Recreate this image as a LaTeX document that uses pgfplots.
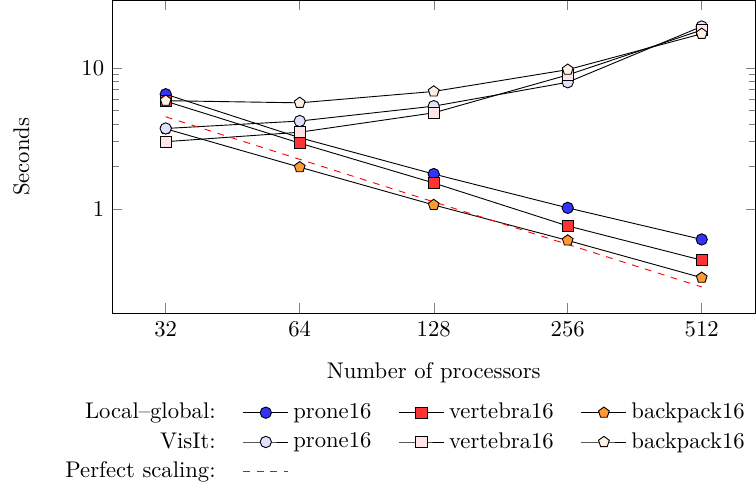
\documentclass[border=0pt]{standalone}
\usepackage{pgfplots}
\pgfplotsset{compat=1.18}

\begin{document}
\begin{tikzpicture}
\begin{axis}[
  scale only axis, width=284pt, height=138pt,
  xmode=log, ymode=log, log basis x=2,
  xtick={32,64,128,256,512}, xticklabels={32,64,128,256,512},
  ytick={1,10}, yticklabels={1,10},
  xminorticks=false,
  xlabel={Number of processors}, ylabel={Seconds},
  xlabel style={yshift=-4.5pt}, ylabel shift=16pt,
  every axis plot/.append style={mark size=2.5pt},
  legend image code/.code={\draw[mark repeat=2,mark phase=2] plot coordinates {(0cm,0cm) (0.35cm,0cm) (0.7cm,0cm)};},
  legend columns=4, legend cell align=right,
  legend style={draw=none, at={(1,-0.258)}, anchor=north east, xshift=0.5pt,
    /tikz/row sep=0.5pt,
    /tikz/every even column/.append style={column sep=10pt}},
]
\addlegendimage{empty legend}\addlegendentry{Local--global:}
\addplot[black, mark=*, mark options={fill=blue!80}] coordinates {(32,6.5) (64,3.2) (128,1.77) (256,1.02) (512,0.61)};
\addlegendentry{prone16}
\addplot[black, mark=square*, mark options={fill=red!80}] coordinates {(32,5.8) (64,2.93) (128,1.53) (256,0.76) (512,0.435)};
\addlegendentry{vertebra16}
\addplot[black, mark=pentagon*, mark options={fill=orange!80}] coordinates {(32,3.7) (64,1.98) (128,1.07) (256,0.60) (512,0.327)};
\addlegendentry{backpack16}
\addlegendimage{empty legend}\addlegendentry{VisIt:}
\addplot[black, mark=*, mark options={fill=blue!12}] coordinates {(32,3.72) (64,4.2) (128,5.35) (256,7.9) (512,19.6)};
\addlegendentry{prone16}
\addplot[black, mark=square*, mark options={fill=red!10}] coordinates {(32,3.0) (64,3.5) (128,4.8) (256,8.9) (512,18.5)};
\addlegendentry{vertebra16}
\addplot[black, mark=pentagon*, mark options={fill=orange!10}] coordinates {(32,5.85) (64,5.65) (128,6.8) (256,9.7) (512,17.4)};
\addlegendentry{backpack16}
\addlegendimage{empty legend}\addlegendentry{Perfect scaling:}
\addplot[red, dashed, no marks] coordinates {(32,4.5) (512,0.28125)};
\addlegendentry{}
\end{axis}
\path (current axis.south west) ++(-49.5pt,0pt);
\end{tikzpicture}
\end{document}
